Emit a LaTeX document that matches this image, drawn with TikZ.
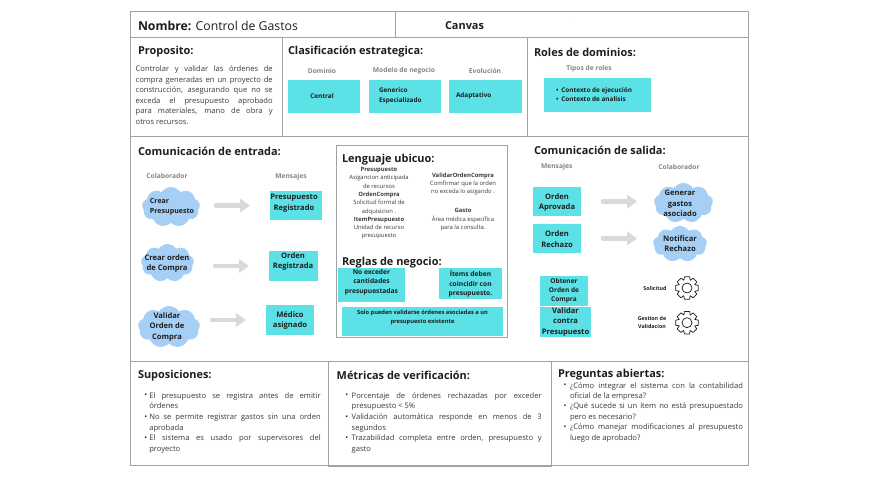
\documentclass[tikz,border=0pt]{standalone}
\usepackage{fontspec}
\setmainfont{Open Sans}
\usetikzlibrary{shapes.symbols,arrows.meta}
\definecolor{teal}{HTML}{5CE1E6}
\definecolor{cloudc}{HTML}{A6CFF6}
\definecolor{frame}{HTML}{A3A3A3}
\definecolor{lab}{HTML}{858585}
\definecolor{arr}{HTML}{D9D9D9}
\definecolor{ink}{HTML}{1E1E1E}
\definecolor{body}{HTML}{3A3A3A}
\newcommand{\fs}[2]{\fontsize{#1pt}{#2pt}\selectfont}
\tikzset{
 x=0.75pt,y=-0.75pt,
 every node/.style={inner sep=0pt,outer sep=0pt},
 rule/.style={draw=frame,line width=0.65pt},
 hd/.style={anchor=west,yshift=-0.75pt,text=ink,font=\fs{8.2}{10}\bfseries},
 sublab/.style={text=lab,font=\fs{5}{7}\bfseries},
 boxt/.style={align=center,text=ink,font=\fs{5.7}{7.9}\bfseries},
 para/.style={anchor=north west,yshift=-0.75pt,align=justify,text=body,font=\fs{5.7}{7.95}},
 bul/.style={anchor=center,yshift=-0.75pt,text=ink,font=\fs{5.7}{7.95}},
 term/.style={align=center,text=body,font=\fs{4.4}{6.2}},
 flow/.style={draw=arr,line width=3.4pt,line cap=round,-{Triangle[length=7.5pt,width=10pt]}},
 gear/.style={draw=ink,line width=0.55pt,line join=round},
}
% name x1 y1 x2 y2
\newcommand{\tealbox}[5]{\node[fill=teal,minimum width={(#4-#2)*0.75pt},minimum height={(#5-#3)*0.75pt}] (#1) at ({(#2+#4)/2},{(#3+#5)/2}) {};}
\newcommand{\cloudn}[5]{\node[cloud,cloud puffs=9,cloud puff arc=115,fill=cloudc,aspect=1.5,minimum width={(#4-#2)*0.75pt},minimum height={(#5-#3)*0.75pt}] (#1) at ({(#2+#4)/2},{(#3+#5)/2}) {};}
\newcommand{\gearat}[2]{\draw[gear,shift={(#1,#2)}] (-23:8.4) \foreach \a in {0,45,...,315}{ -- ({\a-13}:11.5) -- ({\a+13}:11.5) -- ({\a+23}:8.4) } -- cycle (0,0) circle (5);}
\begin{document}
\begin{tikzpicture}
\useasboundingbox (0,0) rectangle (879,478);
\fill[white] (0,0) rectangle (879,478);
% frame
\draw[rule] (130,11) rectangle (748,465);
\draw[rule] (130,37.3) -- (748,37.3);
\draw[rule] (130,136) -- (748,136);
\draw[rule] (130,361.5) -- (748,361.5);
\draw[rule] (395,11) -- (395,37.3);
\draw[rule] (282,37.3) -- (282,136);
\draw[rule] (527,37.3) -- (527,136);
\draw[rule] (328,361.5) -- (328,466.5) -- (551,466.5) -- (551,361.5);
% top row
\node[hd,font=\fs{9.2}{11}] (nombre) at (138,25) {\textbf{Nombre:} \mdseries Control de Gastos};
\node[hd] (canvas) at (445,24.5) {Canvas};
\node[text=lab!60!white,font=\fs{4}{5}] (dot) at (572,23) {.};
% proposito
\node[hd] (prop) at (138,51) {Proposito:};
\node[para,text width=137*0.75pt] (proptxt) at (135.7,63.8) {\rule{0pt}{5pt}Controlar y validar las órdenes de\linebreak compra generadas en un proyecto de\linebreak construcción, asegurando que no se\linebreak exceda el presupuesto aprobado\linebreak para materiales, mano de obra y\linebreak otros recursos.};
% clasificacion
\node[hd] (clas) at (288,51) {Clasificación estrategica:};
\node[sublab] (dom) at (322,70.7) {Dominio};
\node[sublab] (mod) at (404,70.7) {Modelo de negocio};
\node[sublab] (evo) at (485,70.7) {Evolución};
\tealbox{central}{288}{80}{360}{113}
\tealbox{generico}{369}{80}{441}{113}
\tealbox{adapt}{449}{80}{522}{113}
\node[boxt,font=\fs{4.8}{7}\bfseries] (centralt) at (322,96) {Central};
\node[boxt,align=left,anchor=west,font=\fs{4.8}{7}\bfseries] (genericot) at (379,96) {Generico\\Especializado};
\node[boxt,anchor=west,font=\fs{4.8}{7}\bfseries] (adaptt) at (456,96) {Adaptativo};
% roles
\node[hd] (roles) at (534,51) {Roles de dominios:};
\node[sublab] (tipos) at (589,69) {Tipos de roles};
\tealbox{rolesbox}{544}{78}{651}{112}
\node[boxt,align=left,anchor=west,font=\fs{4.8}{6.75}\bfseries] (rolest) at (556,94.2) {\textbullet\hspace{2.2pt}Contexto de ejecución\\\textbullet\hspace{2.2pt}Contexto de analisis};
% comunicacion entrada
\node[hd] (ent) at (138,150) {Comunicación de entrada:};
\node[sublab] (col1) at (167,176) {Colaborador};
\node[sublab] (men1) at (291,177) {Mensajes};
\cloudn{ce1}{142}{187}{200}{227}
\cloudn{ce2}{141}{244}{194}{282}
\cloudn{ce3}{138}{306}{200}{348}
\tealbox{me1}{270}{191}{322}{220}
\tealbox{me2}{269}{251}{318}{281}
\tealbox{me3}{266}{305}{314}{335}
\node[boxt,align=left,font=\fs{5.3}{7.4}\bfseries] (ce1t) at (172,206.5) {Crear\\Presupuesto};
\node[boxt] (ce2t) at (167,263.5) {Crear orden\\de Compra};
\node[boxt] (ce3t) at (167,327) {Validar\\Orden de\\Compra};
\node[boxt] (me1t) at (294,203) {Presupuesto\\Registrado};
\node[boxt] (me2t) at (293,261.5) {Orden\\Registrada};
\node[boxt] (me3t) at (290,320.3) {Médico\\asignado};
\draw[flow,shorten <={(216-171)*0.75pt},shorten >={(270-250)*0.75pt}] (me1.west -| ce1.center) -- (me1.west);
\draw[flow,shorten <={(215-167.5)*0.75pt},shorten >={(269-249)*0.75pt}] (me2.west -| ce2.center) -- (me2.west);
\draw[flow,shorten <={(212-169)*0.75pt},shorten >={(266-246)*0.75pt}] (me3.west -| ce3.center) -- (me3.west);
% lenguaje ubicuo
\draw[rule] (336.7,145) rectangle (507.7,337);
\node[hd] (leng) at (342,159) {Lenguaje ubicuo:};
\node[term,anchor=north] (t1) at (379,167.5) {\textbf{Presupuesto}\\Asigancion anticipada\\de recursos\\\textbf{OrdenCompra}\\Solicitud formal de\\adquisicion .\\\textbf{ItemPresupuesto}\\Unidad de recurso\\presupuesto};
\node[term,anchor=north] (t2) at (463,173) {\textbf{ValidarOrdenCompra}\\Comfirmar que la orden\\no exceda lo asigando .\\[8pt]\textbf{Gasto}\\Área médica específica\\para la consulta.};
\node[hd] (reglas) at (342,262) {Reglas de negocio:};
\tealbox{r1}{338}{268}{405}{302}
\tealbox{r2}{439}{268}{502}{299}
\tealbox{r3}{342}{306.7}{503}{336}
\node[boxt,font=\fs{5}{7}\bfseries] (r1t) at (371.5,282) {No exceder\\cantidades\\presupuestadas};
\node[boxt,font=\fs{5}{7.1}\bfseries] (r2t) at (470.5,283.7) {Ítems deben\\coincidir con\\presupuesto.};
\node[boxt,font=\fs{4.3}{6.3}\bfseries] (r3t) at (422.5,317.5) {Solo pueden validarse órdenes asociadas a un\\presupuesto existente};
% comunicacion salida
\node[hd] (sal) at (534,149) {Comunicación de salida:};
\node[sublab] (men2) at (556.7,167) {Mensajes};
\node[sublab] (col2) at (679,167) {Colaborador};
\tealbox{ms1}{533}{187}{581}{216}
\tealbox{ms2}{533}{224}{581}{253}
\tealbox{ms3}{540}{276}{588}{305.7}
\tealbox{ms4}{540}{307}{591}{337}
\cloudn{cs1}{654}{183}{713}{223}
\cloudn{cs2}{653}{226}{707}{262}
\node[boxt] (ms1t) at (557,202.5) {Orden\\Aprovada};
\node[boxt] (ms2t) at (557,239) {Orden\\Rechazo};
\node[boxt,font=\fs{4.9}{6.75}\bfseries] (ms3t) at (564,291) {Obtener\\Orden de\\Compra};
\node[boxt] (ms4t) at (565.5,321.8) {Validar\\contra\\Presupuesto};
\node[boxt] (cs1t) at (680,203.3) {Generar\\gastos\\asociado};
\node[boxt] (cs2t) at (680,243.8) {Notificar\\Rechazo};
\draw[flow,shorten <={(603-581)*0.75pt},shorten >={(683.5-637)*0.75pt}] (ms1.east) -- (ms1.east -| cs1.center);
\draw[flow,shorten <={(603-581)*0.75pt},shorten >={(680-637)*0.75pt}] (ms2.east) -- (ms2.east -| cs2.center);
\node[boxt,font=\fs{4}{6}\bfseries] (sol) at (655,288) {Solicitud};
\node[boxt,font=\fs{4}{6}\bfseries] (ges) at (652,322.3) {Gestion de\\Validacion};
\gearat{687}{288}
\gearat{687}{322.7}
% suposiciones
\node[hd] (sup) at (138,374.7) {Suposiciones:};
\node[bul] (b1) at (145.7,395) {•};
\node[bul] (b2) at (145.7,416.3) {•};
\node[bul] (b3) at (145.7,437.3) {•};
\node[para,text width=171.4*0.75pt] (s1) at (149.3,390.5) {\rule{0pt}{5pt}El presupuesto se registra antes de emitir\linebreak órdenes};
\node[para,text width=171.4*0.75pt] (s2) at (149.3,411.8) {\rule{0pt}{5pt}No se permite registrar gastos sin una orden\linebreak aprobada};
\node[para,text width=171.4*0.75pt] (s3) at (149.3,432.8) {\rule{0pt}{5pt}El sistema es usado por supervisores del\linebreak proyecto};
% metricas
\node[hd] (met) at (336.7,374.7) {Métricas de verificación:};
\node[bul] (b4) at (346.7,395) {•};
\node[bul] (b5) at (346.7,416.3) {•};
\node[bul] (b6) at (346.7,437.3) {•};
\node[para,text width=190*0.75pt] (m1) at (351.7,390.5) {\rule{0pt}{5pt}Porcentaje de órdenes rechazadas por exceder\linebreak presupuesto < 5\%};
\node[para,text width=190*0.75pt] (m2) at (351.7,411.8) {\rule{0pt}{5pt}Validación automática responde en menos de 3\linebreak segundos};
\node[para,text width=190*0.75pt] (m3) at (351.7,432.8) {\rule{0pt}{5pt}Trazabilidad completa entre orden, presupuesto y\linebreak gasto};
% preguntas
\node[hd] (preg) at (558,373.7) {Preguntas abiertas:};
\node[bul] (b7) at (565,385) {•};
\node[bul] (b8) at (565,405.7) {•};
\node[bul] (b9) at (565,426.7) {•};
\node[para,text width=173*0.75pt] (p1) at (570,380.5) {\rule{0pt}{5pt}¿Cómo integrar el sistema con la contabilidad\linebreak oficial de la empresa?};
\node[para,text width=173*0.75pt] (p2) at (570,401.2) {\rule{0pt}{5pt}¿Qué sucede si un ítem no está presupuestado\linebreak pero es necesario?};
\node[para,text width=173*0.75pt] (p3) at (570,422.2) {\rule{0pt}{5pt}¿Cómo manejar modificaciones al presupuesto\linebreak luego de aprobado?};
\end{tikzpicture}
\end{document}
